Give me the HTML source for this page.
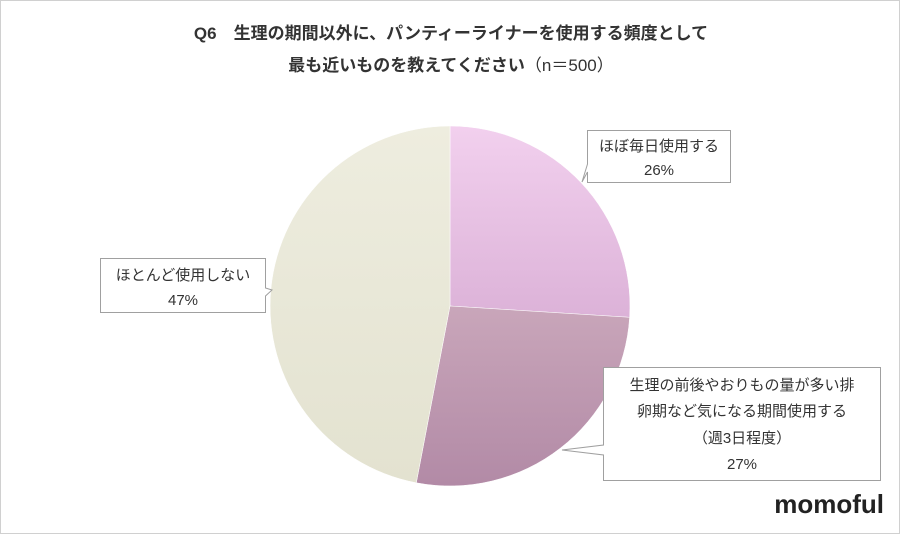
<!DOCTYPE html>
<html><head><meta charset="utf-8"><style>
body{margin:0;background:#fff}
#c{position:relative;width:898px;height:532px;border:1px solid #d0d0d0;background:#fff;font-family:"Liberation Sans","Noto Sans CJK JP",sans-serif;overflow:hidden}
.t{position:absolute;left:0;width:900px;text-align:center;font-weight:bold;font-size:17px;color:#333}
</style></head><body><div id="c">
<div class="t" style="top:18px">Q6　生理の期間以外に、パンティーライナーを使用する頻度として</div>
<div class="t" style="top:50px">最も近いものを教えてください<span style="font-weight:normal">（n＝500）</span></div>
<svg width="900" height="534" style="position:absolute;left:-1px;top:-1px">
<defs>
<linearGradient id="g1" x1="0" y1="0" x2="0" y2="1"><stop offset="0" stop-color="#f2d0ee"/><stop offset="1" stop-color="#dcb2d8"/></linearGradient>
<linearGradient id="g2" x1="0" y1="0" x2="0" y2="1"><stop offset="0" stop-color="#c9a6ba"/><stop offset="1" stop-color="#b28aa6"/></linearGradient>
<linearGradient id="g3" x1="0" y1="0" x2="0" y2="1"><stop offset="0" stop-color="#eeeddf"/><stop offset="1" stop-color="#e3e2d0"/></linearGradient>
</defs>
<path d="M450,306 L450,126 A180,180 0 0 1 629.6,317.3 Z" fill="url(#g1)" stroke="#fff" stroke-width="0.5"/>
<path d="M450,306 L629.6,317.3 A180,180 0 0 1 416.3,482.8 Z" fill="url(#g2)" stroke="#fff" stroke-width="0.5"/>
<path d="M450,306 L416.3,482.8 A180,180 0 0 1 450,126 Z" fill="url(#g3)" stroke="#fff" stroke-width="0.5"/>
<g fill="#fff" stroke="#a0a0a0" stroke-width="1">
<path d="M587.5,130.5 H730.5 V182.5 H587.5 V172 L582,182 L587.5,164 Z"/>
<path d="M100.5,258.5 H265.5 V288 L272,290 L265.5,296 V312.5 H100.5 Z"/>
<path d="M603.5,367.5 H880.5 V480.5 H603.5 V455 L562,450 L603.5,445 Z"/>
</g>
<g font-family="Liberation Sans,Noto Sans CJK JP,sans-serif" font-size="15" fill="#333" text-anchor="middle">
<text x="659" y="151">ほぼ毎日使用する</text><text x="659" y="175">26%</text>
<text x="183" y="280">ほとんど使用しない</text><text x="183" y="305">47%</text>
<text x="742" y="390">生理の前後やおりもの量が多い排</text>
<text x="742" y="416">卵期など気になる期間使用する</text>
<text x="742" y="443">（週3日程度）</text>
<text x="742" y="469">27%</text>
</g>
<text x="884" y="513" text-anchor="end" font-family="Liberation Sans,sans-serif" font-weight="bold" font-size="26" fill="#222">momoful</text>
</svg>
</div></body></html>
